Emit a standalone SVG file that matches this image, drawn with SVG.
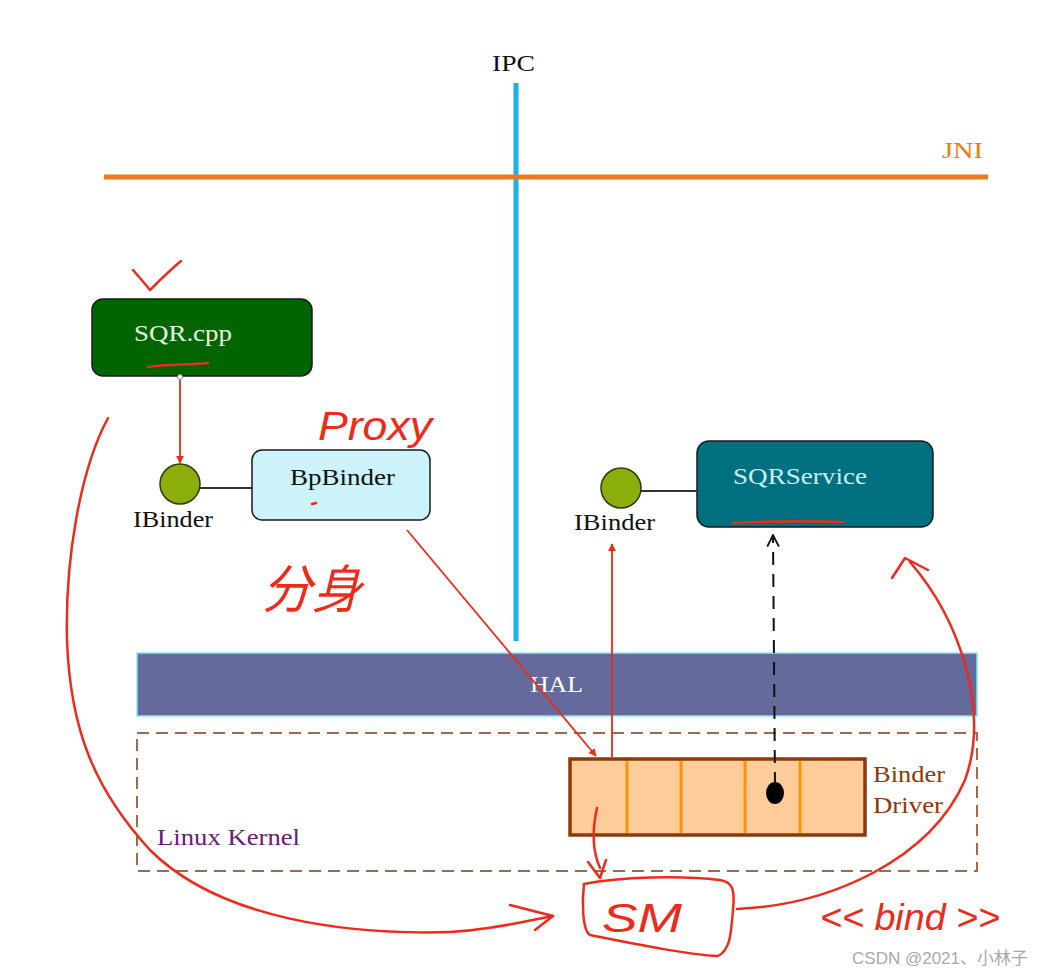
<svg xmlns="http://www.w3.org/2000/svg" width="1043" height="977" viewBox="0 0 1043 977">
<style>
.serif{font-family:"Liberation Serif","DejaVu Serif",serif;font-size:23px;}
.lbl{font-family:"Liberation Serif","DejaVu Serif",serif;font-size:23px;fill:#111;}
.box{stroke:#1a1a1a;stroke-width:1.5;}
.port{fill:#8cae0a;stroke:#2a3a00;stroke-width:1.5;}
.ink{fill:none;stroke:#ee2a1a;stroke-width:2.5;stroke-linecap:round;stroke-linejoin:round;}
.hand{font-family:"Liberation Sans","Noto Sans CJK SC",sans-serif;font-style:italic;fill:#ee2a1a;}
</style>
<defs>
<marker id="redTri" viewBox="0 0 10 10" refX="9" refY="5" markerWidth="8" markerHeight="8" orient="auto" markerUnits="userSpaceOnUse">
<path d="M0,0 L10,5 L0,10 z" fill="#ee2a1a"/>
</marker>
<marker id="openArrow" viewBox="0 0 12 12" refX="11" refY="6" markerWidth="14" markerHeight="14" orient="auto" markerUnits="userSpaceOnUse">
<path d="M1,1 L11,6 L1,11" fill="none" stroke="#111" stroke-width="1.6"/>
</marker>
</defs>
<rect width="1043" height="977" fill="#ffffff"/>

<!-- layers -->
<g id="ipc">
<line x1="516" y1="83" x2="516" y2="641" stroke="#18b2ea" stroke-width="5"/>
<text x="492" y="71" class="lbl" textLength="43" lengthAdjust="spacingAndGlyphs">IPC</text>
</g>
<g id="jni">
<line x1="104" y1="177" x2="988" y2="177" stroke="#f07818" stroke-width="5"/>
<text x="942" y="158" class="serif" fill="#f07818" textLength="41" lengthAdjust="spacingAndGlyphs">JNI</text>
</g>
<g id="hal">
<rect x="137" y="653" width="840" height="63" fill="#646a9c" stroke="#8fe3ef" stroke-width="1.5"/>
<text x="530" y="692" class="serif" fill="#ffffff" textLength="53" lengthAdjust="spacingAndGlyphs">HAL</text>
</g>
<g id="linux-kernel">
<rect x="137" y="733" width="840" height="138" fill="none" stroke="#9c6a4c" stroke-width="2" stroke-dasharray="12,7"/>
<text x="157" y="845" class="serif" fill="#6a1a7a" textLength="143" lengthAdjust="spacingAndGlyphs">Linux Kernel</text>
</g>

<!-- nodes -->
<g id="sqr-cpp">
<rect x="92" y="299" width="220" height="77" rx="11" fill="#006400" class="box"/>
<text x="134" y="341" class="serif" fill="#e8f5e0" textLength="98" lengthAdjust="spacingAndGlyphs">SQR.cpp</text>
</g>
<g id="ibinder-left">
<circle cx="180" cy="484" r="20" class="port"/>
<text x="133" y="527" class="lbl" textLength="80" lengthAdjust="spacingAndGlyphs">IBinder</text>
</g>
<g id="bpbinder">
<rect x="252" y="450" width="178" height="70" rx="10" fill="#ccf2fa" class="box"/>
<text x="290" y="485" class="lbl" textLength="105" lengthAdjust="spacingAndGlyphs">BpBinder</text>
</g>
<g id="ibinder-right">
<circle cx="621" cy="488" r="20" class="port"/>
<text x="574" y="530" class="lbl" textLength="81" lengthAdjust="spacingAndGlyphs">IBinder</text>
</g>
<g id="sqrservice">
<rect x="697" y="441" width="236" height="86" rx="12" fill="#006f7f" class="box"/>
<text x="733" y="484" class="serif" fill="#c8f0f8" textLength="134" lengthAdjust="spacingAndGlyphs">SQRService</text>
</g>
<g id="binder-driver">
<rect x="570" y="759" width="295" height="76" fill="#fecc98" stroke="#8a3a0c" stroke-width="3.5"/>
<g stroke="#f5960a" stroke-width="3">
<line x1="627" y1="761" x2="627" y2="833"/>
<line x1="681" y1="761" x2="681" y2="833"/>
<line x1="745" y1="761" x2="745" y2="833"/>
<line x1="800" y1="761" x2="800" y2="833"/>
</g>
<ellipse cx="775" cy="793" rx="9" ry="11" fill="#000"/>
<text x="873" y="782" class="serif" fill="#8a3a0c" textLength="72" lengthAdjust="spacingAndGlyphs">Binder</text>
<text x="873" y="813" class="serif" fill="#8a3a0c" textLength="70" lengthAdjust="spacingAndGlyphs">Driver</text>
</g>

<!-- connectors -->
<g id="connectors">
<line x1="180" y1="376" x2="180" y2="463" stroke="#ee2a1a" stroke-width="1.8" marker-end="url(#redTri)"/>
<circle cx="180" cy="377" r="2.5" fill="#fff" stroke="#888" stroke-width="1"/>
<line x1="200" y1="488" x2="252" y2="488" stroke="#333" stroke-width="2"/>
<line x1="641" y1="491" x2="697" y2="491" stroke="#333" stroke-width="2"/>
<line x1="407" y1="530" x2="596" y2="756" stroke="#ee2a1a" stroke-width="1.8" marker-end="url(#redTri)"/>
<line x1="612" y1="757" x2="612" y2="544" stroke="#ee2a1a" stroke-width="1.8" marker-end="url(#redTri)"/>
<line x1="775" y1="785" x2="773" y2="535" stroke="#111" stroke-width="2" stroke-dasharray="13,9" marker-end="url(#openArrow)"/>
</g>

<!-- handwritten annotations -->
<g id="annotations">
<path class="ink" d="M133,270 C140,278 146,285 150,290 C160,280 170,270 181,261"/>
<path class="ink" stroke-width="3" d="M148,367 C165,364 190,365 208,363"/>
<path class="ink" stroke-width="3" d="M733,523 C770,521 810,521 843,522"/>
<path class="ink" d="M312,504 L316,503"/>
<text x="318" y="440" class="hand" font-size="40" textLength="114" lengthAdjust="spacingAndGlyphs">Proxy</text>
<text x="262" y="608" class="hand" font-size="52" textLength="100" lengthAdjust="spacingAndGlyphs">分身</text>
<path class="ink" d="M108,418 C80,470 65,560 67,640 C70,730 95,790 150,850 C220,920 350,935 450,932 C490,930 520,922 553,916"/>
<path class="ink" d="M510,905 L553,916 L535,930"/>
<path class="ink" d="M597,808 C592,830 592,850 600,868"/>
<path class="ink" d="M588,862 L600,878 L606,860"/>
<path class="ink" d="M584,884 C620,877 680,875 720,880 C733,882 735,890 733,910 C731,935 730,950 718,956 C690,955 640,945 590,935 C582,930 582,900 584,884 Z"/>
<text x="602" y="932" class="hand" font-size="40" textLength="80" lengthAdjust="spacingAndGlyphs">SM</text>
<path class="ink" d="M737,909 C830,905 930,860 965,780 C990,710 960,620 910,562"/>
<path class="ink" d="M892,578 L905,558 L928,570"/>
<text x="820" y="930" class="hand" font-size="36" textLength="180" lengthAdjust="spacingAndGlyphs">&lt;&lt; bind &gt;&gt;</text>
</g>

<text x="1028" y="964" font-family="Liberation Sans,'Noto Sans CJK SC',sans-serif" font-size="17" fill="#a8a8a8" text-anchor="end">CSDN @2021、小林子</text>
</svg>
